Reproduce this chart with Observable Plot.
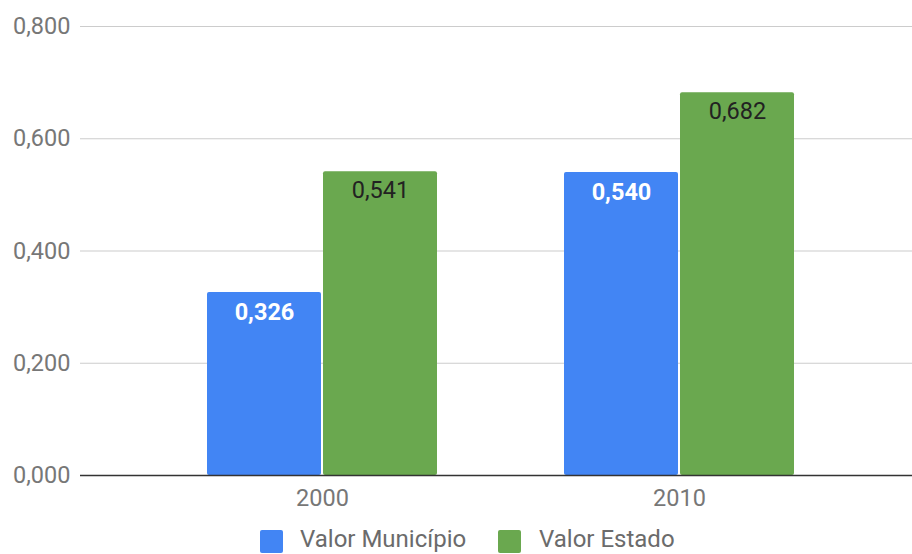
<!DOCTYPE html>
<html>
<head>
<meta charset="utf-8">
<script src="https://cdn.jsdelivr.net/npm/d3@7"></script>
<script src="https://cdn.jsdelivr.net/npm/@observablehq/plot@0.6"></script>
<style>
  html, body { margin: 0; padding: 0; background: #fff; }
  body { width: 912px; height: 554px; overflow: hidden; font-family: Roboto, sans-serif; }
  #legend { position: relative; height: 29px; font-size: 24px; color: #6b6b6b; }
  #legend .sw { position: absolute; top: 5px; width: 23px; height: 23px; border-radius: 2px; }
  #legend .lb { position: absolute; top: 0px; line-height: 28px; white-space: nowrap; }
</style>
</head>
<body>
<div id="chart"></div>
<div id="legend"></div>
<script>
const years = ["2000", "2010"];
const seriesNames = ["Valor Município", "Valor Estado"];
const municipio = [0.326, 0.540];
const estado = [0.541, 0.682];
const yTicks = [0, 0.2, 0.4, 0.6, 0.8];
const colors = ["#4285F4", "#6AA84F"];

const fmt = v => d3.format(".3f")(v).replace(".", ",");

const dataM = years.map((y, i) => ({year: y, value: municipio[i]}));
const dataE = years.map((y, i) => ({year: y, value: estado[i]}));

const chart = Plot.plot({
  width: 912,
  height: 525,
  marginLeft: 80,
  marginRight: 0,
  marginTop: 26,
  marginBottom: 50,
  style: {fontFamily: "Roboto, sans-serif", fontSize: "23.5px", color: "#777777", background: "#fff"},
  x: {domain: years, range: [80, 921], padding: 0.3557, tickSize: 0, tickPadding: 14, label: null},
  y: {domain: [0, 0.8], ticks: yTicks, tickFormat: fmt, tickSize: 0, tickPadding: 10, label: null},
  marks: [
    Plot.ruleY(yTicks.filter(t => t > 0), {stroke: "#cccccc", strokeWidth: 1.2}),
    Plot.barY(dataM, {x: "year", y: "value", fill: colors[0], insetRight: 116, rx: 2}),
    Plot.barY(dataE, {x: "year", y: "value", fill: colors[1], insetLeft: 116, rx: 2}),
    Plot.ruleY([0], {stroke: "#333", strokeWidth: 1.5}),
    Plot.text(dataM, {x: "year", y: "value", text: d => fmt(d.value), dx: -58, dy: 20, fill: "#fff", fontWeight: "bold", fontSize: 23.5}),
    Plot.text(dataE, {x: "year", y: "value", text: d => fmt(d.value), dx: 58, dy: 19, fill: "#222", fontSize: 23.5})
  ]
});
document.getElementById("chart").appendChild(chart);

const legend = document.getElementById("legend");
const pos = [[260, 300], [498, 539]];
seriesNames.forEach((name, i) => {
  const sw = document.createElement("div");
  sw.className = "sw";
  sw.style.left = pos[i][0] + "px";
  sw.style.background = colors[i];
  legend.appendChild(sw);
  const lb = document.createElement("span");
  lb.className = "lb";
  lb.style.left = pos[i][1] + "px";
  lb.textContent = name;
  legend.appendChild(lb);
});
</script>
</body>
</html>
